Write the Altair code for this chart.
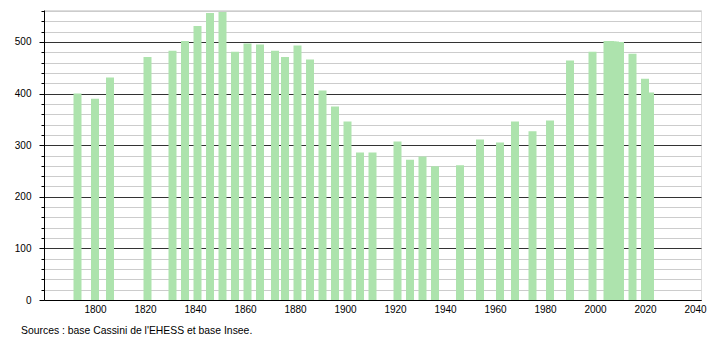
import altair as alt
import pandas as pd

years = [1793, 1800, 1806, 1821, 1831, 1836, 1841, 1846, 1851, 1856,
         1861, 1866, 1872, 1876, 1881, 1886, 1891, 1896, 1901, 1906,
         1911, 1921, 1926, 1931, 1936, 1946, 1954, 1962, 1968, 1975,
         1982, 1990, 1999, 2005, 2006, 2007, 2008, 2009, 2010, 2015,
         2020, 2022]
population = [400, 390, 431, 471, 483, 502, 531, 556, 558, 481,
              497, 495, 483, 471, 493, 466, 406, 375, 346, 286,
              286, 307, 272, 278, 259, 261, 311, 305, 346, 327,
              348, 464, 481, 502, 502, 501, 501, 500, 500, 477,
              429, 402]
x_ticks = [1800, 1820, 1840, 1860, 1880, 1900, 1920, 1940, 1960, 1980, 2000, 2020, 2040]
y_ticks = list(range(0, 561, 20))
source_text = ["Sources : base Cassini de l'EHESS et base Insee."]

df = pd.DataFrame({"year": years, "pop": population})
src_df = pd.DataFrame({"t": source_text})

W, H = 657, 290
FONT = "Liberation Sans"

bars = alt.Chart(df).mark_bar(color="#ade3ad", size=8).encode(
    x=alt.X("year:Q",
            scale=alt.Scale(domain=[1779.6, 2042.4], nice=False, zero=False, padding=0),
            axis=alt.Axis(values=x_ticks, format="d", title=None, grid=False,
                          ticks=False, domainColor="#000000", domainWidth=1,
                          labelFont=FONT, labelFontSize=10, labelColor="#000000",
                          labelPadding=4)),
    y=alt.Y("pop:Q",
            scale=alt.Scale(domain=[0, 562], nice=False),
            axis=alt.Axis(values=y_ticks, title=None,
                          labelExpr="datum.value % 100 == 0 ? datum.label : ''",
                          tickSize={"condition": {"test": "datum.value % 100 === 0", "value": 5}, "value": 3},
                          tickColor="#000000",
                          domainColor="#000000",
                          grid=True,
                          gridColor={"condition": {"test": "datum.value % 100 === 0", "value": "#333333"}, "value": "#cccccc"},
                          gridWidth=1,
                          labelFont=FONT, labelFontSize=10, labelColor="#000000",
                          labelPadding=8)),
)

src = alt.Chart(src_df).mark_text(align="left", baseline="middle", fontSize=10.4,
                                  font=FONT, color="#000000").encode(
    text="t:N",
    x=alt.value(21 - 44),
    y=alt.value(331 - 10),
)

chart = alt.layer(bars, src).properties(
    width=W, height=H,
    autosize=alt.AutoSizeParams(type="none"),
    padding={"left": 44, "top": 10, "right": 9, "bottom": 40},
).configure_view(stroke=None).configure(background="white")

chart.save("out.html", embed_options={"renderer": "svg", "actions": False})
